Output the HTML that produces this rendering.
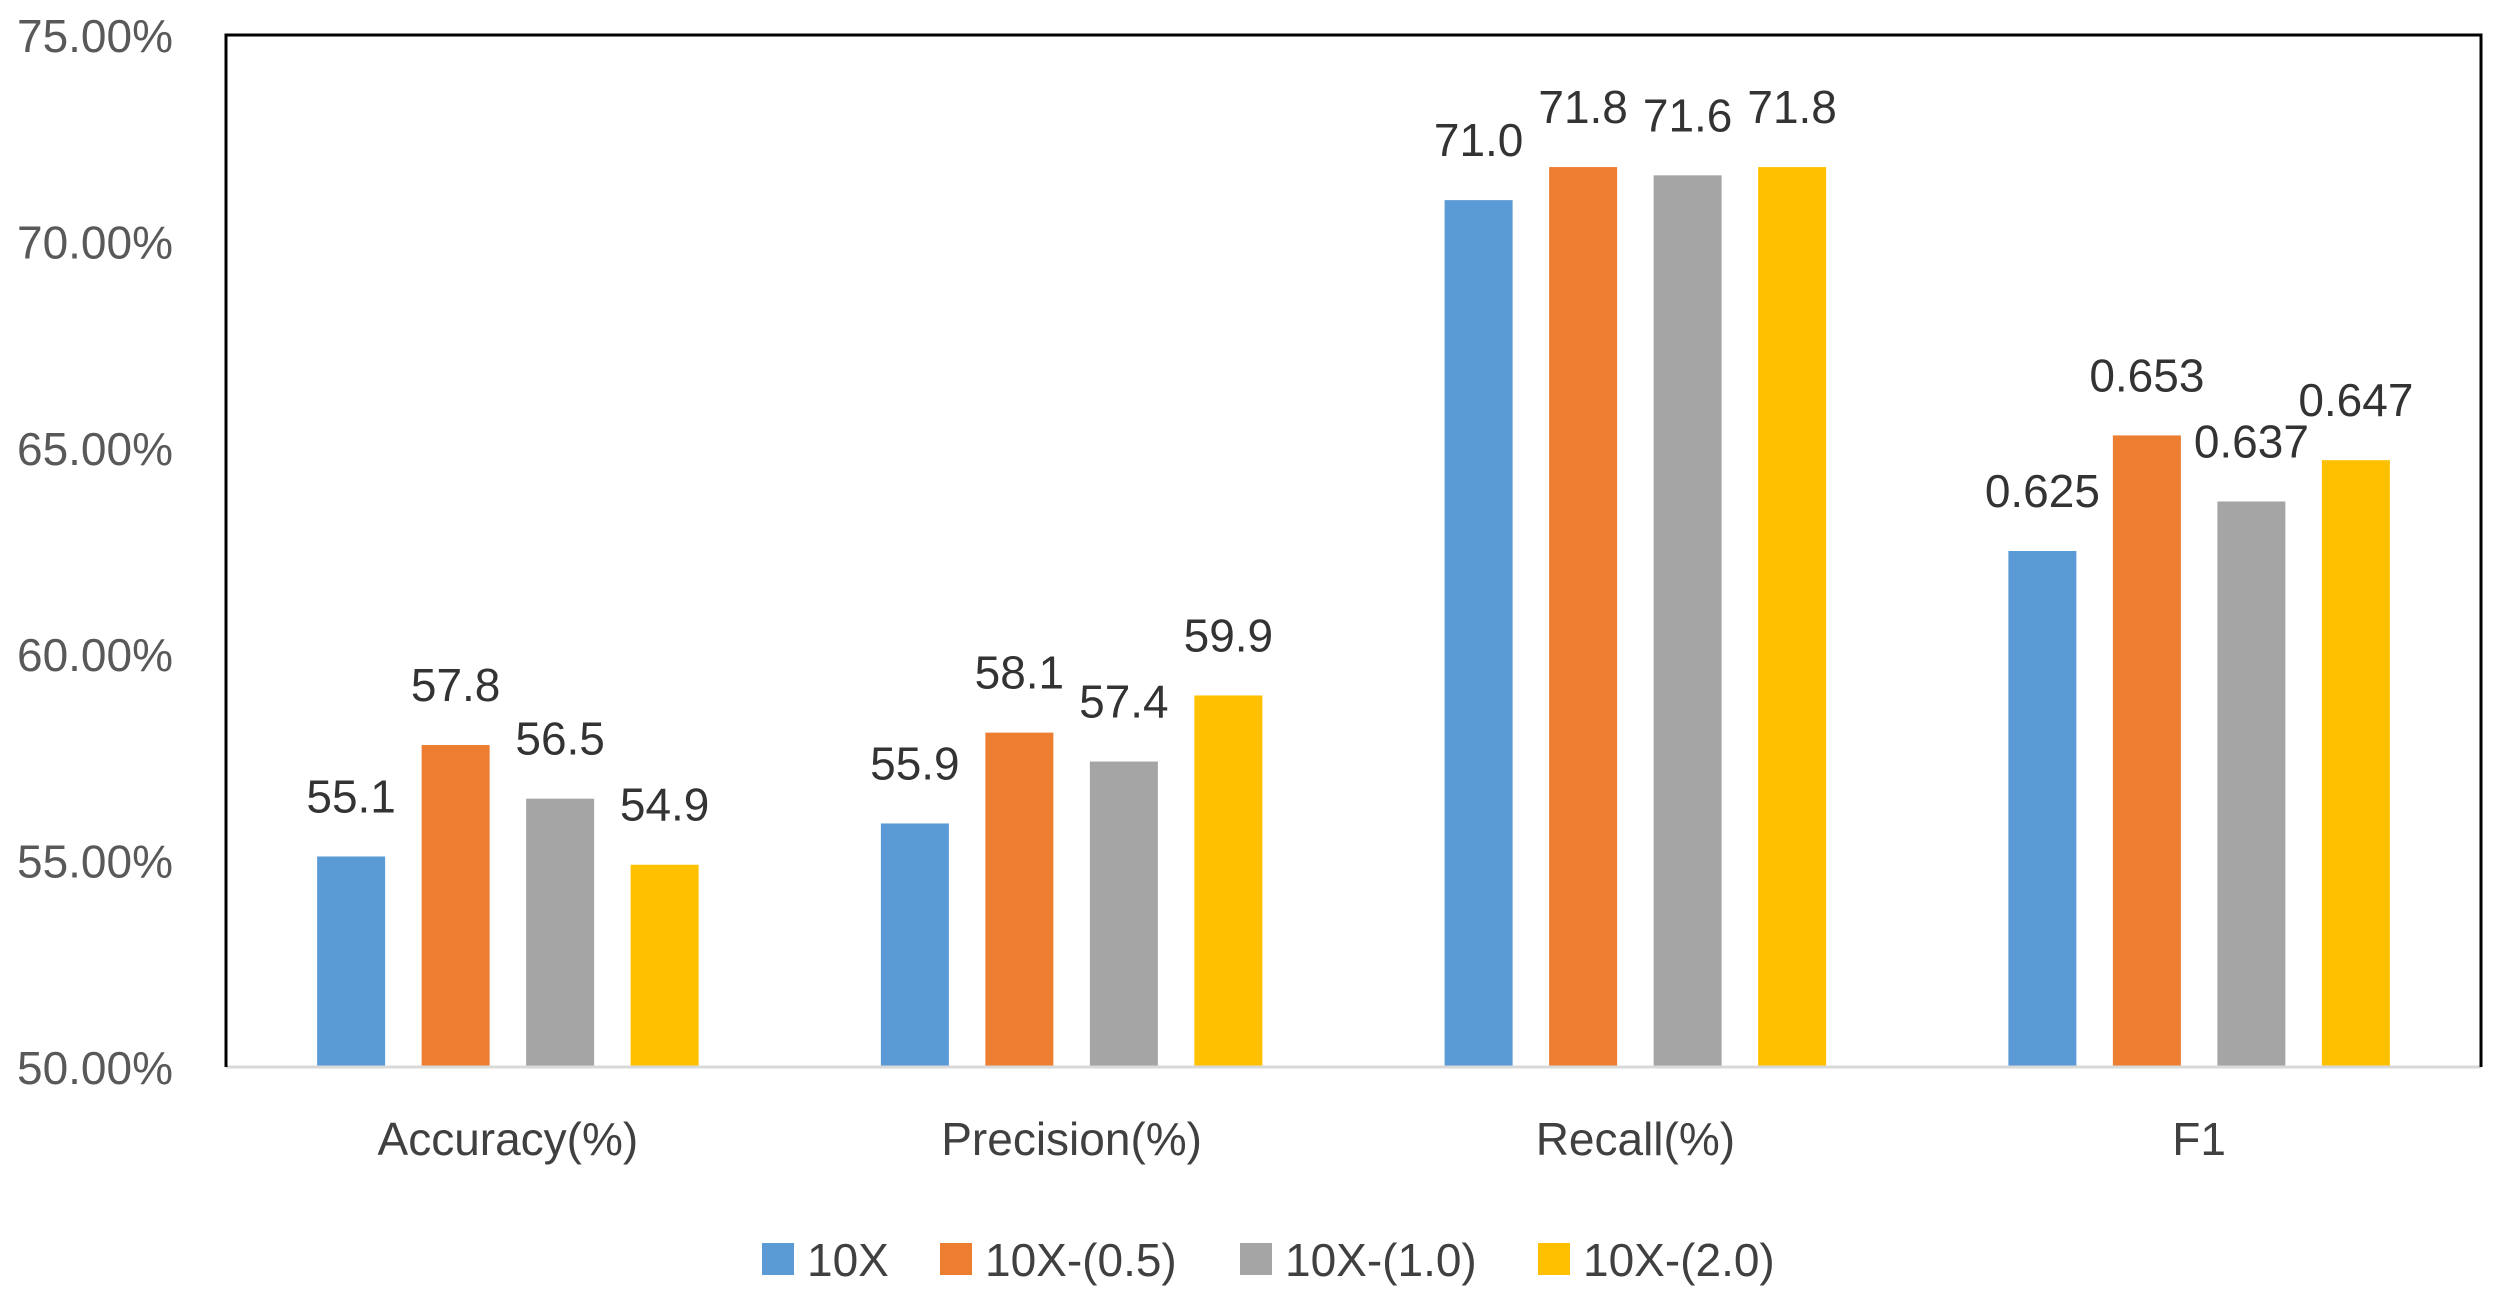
<!DOCTYPE html>
<html><head><meta charset="utf-8"><style>
body{margin:0;background:#fff;}
svg{display:block;font-family:"Liberation Sans",sans-serif;}
</style></head><body>
<svg id="chart" width="2500" height="1301" viewBox="0 0 2500 1301"></svg>
<script>
const categories = ["Accuracy(%)", "Precision(%)", "Recall(%)", "F1"];
const seriesNames = ["10X", "10X-(0.5)", "10X-(1.0)", "10X-(2.0)"];
const s10x = [55.1, 55.9, 71.0, 62.5];
const s05 = [57.8, 58.1, 71.8, 65.3];
const s10 = [56.5, 57.4, 71.6, 63.7];
const s20 = [54.9, 59.0, 71.8, 64.7];
const labels10x = ["55.1", "55.9", "71.0", "0.625"];
const labels05 = ["57.8", "58.1", "71.8", "0.653"];
const labels10 = ["56.5", "57.4", "71.6", "0.637"];
const labels20 = ["54.9", "59.9", "71.8", "0.647"];
const yTicks = [50, 55, 60, 65, 70, 75];

const colors = ["#5b9bd5", "#ed7d31", "#a5a5a5", "#ffc000"];
const series = [s10x, s05, s10, s20];
const seriesLabels = [labels10x, labels05, labels10, labels20];
const L = 226, R = 2481, T = 35, B = 1067, yMin = 50, yMax = 75;
const svg = document.getElementById('chart');
const NS = 'http://www.w3.org/2000/svg';
function y(v){ return B - (v - yMin) / (yMax - yMin) * (B - T); }
const groupW = (R - L) / categories.length;
function gx(i){ return L + groupW * (i + 0.5); }
const barW = 68, step = 104.5;
function bx(i, s){ return gx(i) + (s - 1.5) * step - barW / 2; }
function mk(tag, attrs, text){
  const e = document.createElementNS(NS, tag);
  for (const k in attrs) e.setAttribute(k, attrs[k]);
  if (text !== undefined) e.textContent = text;
  svg.appendChild(e);
  return e;
}
yTicks.forEach(t => {
  const e = mk('text', {x: 173, y: y(t) + 17, 'text-anchor': 'end', 'font-size': 46, fill: '#595959'}, t.toFixed(2) + '%');
  
  
});
series.forEach((arr, s) => {
  arr.forEach((v, i) => {
    const r = mk('rect', {x: bx(i, s), y: y(v), width: barW, height: B - y(v), fill: colors[s]});
    
    
    const t = mk('text', {x: bx(i, s) + barW / 2, y: y(v) - 44, 'text-anchor': 'middle', 'font-size': 46, fill: '#333'}, seriesLabels[s][i]);
    
    
  });
});
const ax = mk('line', {x1: L, y1: B, x2: R, y2: B, stroke: '#d9d9d9', 'stroke-width': 3});


const fr = mk('path', {d: `M${L},${B} V${T} H${R} V${B}`, fill: 'none', stroke: '#000', 'stroke-width': 3});


categories.forEach((c, i) => {
  const e = mk('text', {x: gx(i), y: 1155, 'text-anchor': 'middle', 'font-size': 46, fill: '#404040'}, c);
  
  
});
const legX = [762, 940, 1240, 1538];
seriesNames.forEach((n, s) => {
  const r = mk('rect', {x: legX[s], y: 1243, width: 32, height: 32, fill: colors[s]});
  
  
  const t = mk('text', {x: legX[s] + 45, y: 1276, 'font-size': 46, fill: '#404040'}, n);
  
  
});
</script>
</body></html>
